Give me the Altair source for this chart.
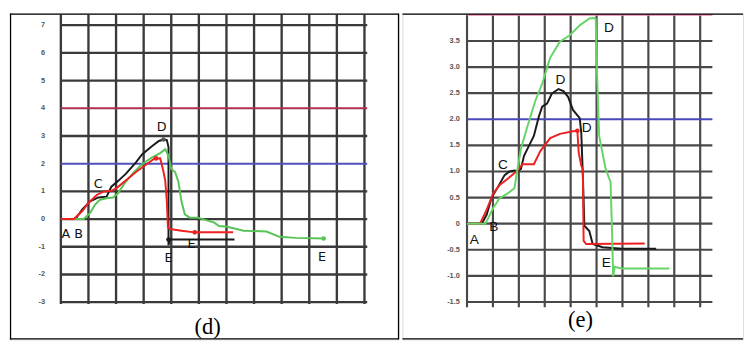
import altair as alt
import pandas as pd

# ---------------- Panel (d) ----------------
d_tick_values = [7, 6, 5, 4, 3, 2, 1, 0, -1, -2, -3]
d_tick_labels = ["7", "6", "5", "4", "3", "2", "1", "0", "-1", "-2", "-3"]
d_vgrid = list(range(0, 12))
d_special = [4, 2, 2.27]
d_special_colors = ["#b03050", "#5050c0", "#f3f0b8"]

d_black_x = [0, 0.53, 0.77, 1.06, 1.36, 1.66, 1.83, 2.07, 2.36, 2.72, 2.95, 3.31, 3.55, 3.72, 3.84, 3.9, 3.9, 3.95, 6.29]
d_black_y = [0, 0, 0.34, 0.64, 0.78, 0.81, 1.17, 1.37, 1.64, 2.05, 2.34, 2.64, 2.82, 2.87, 2.85, 2.6, -0.95, -0.74, -0.74]
d_red_x = [0, 0.47, 0.77, 1.0, 1.3, 1.54, 1.83, 2.01, 2.36, 2.72, 3.07, 3.37, 3.6, 3.72, 3.78, 3.84, 3.88, 3.96, 4.37, 4.85, 6.24]
d_red_y = [0, 0, 0.28, 0.58, 0.87, 0.99, 1.02, 1.11, 1.4, 1.7, 1.95, 2.17, 2.19, 1.7, 1.4, 0.64, -0.31, -0.36, -0.42, -0.48, -0.48]
d_green_x = [0, 0.83, 1.06, 1.24, 1.42, 1.66, 1.89, 2.07, 2.3, 2.6, 2.95, 3.31, 3.6, 3.78, 3.9, 4.0, 4.14, 4.26, 4.37, 4.49, 4.67, 4.96, 5.56, 5.73, 6.03, 6.62, 7.45, 7.92, 8.51, 9.52]
d_green_y = [0, 0, 0.22, 0.52, 0.7, 0.75, 0.78, 0.93, 1.28, 1.64, 1.99, 2.23, 2.38, 2.52, 2.29, 1.81, 1.7, 1.34, 0.64, 0.17, 0.05, 0.05, -0.13, -0.25, -0.28, -0.42, -0.45, -0.64, -0.68, -0.7]

d_dot_x = [3.72, 3.45, 4.85, 9.52, 3.9]
d_dot_y = [2.87, 2.19, -0.48, -0.7, -0.74]
d_dot_c = ["#555555", "#ee2020", "#ee2020", "#55c455", "#1a1a1a"]

d_lab_text = ["A", "B", "C", "D", "E", "E", "E"]
d_lab_x = [0.18, 0.64, 1.35, 3.65, 3.9, 4.73, 9.46]
d_lab_y = [-0.53, -0.53, 1.27, 3.32, -1.42, -0.9, -1.37]

# ---------------- Panel (e) ----------------
e_tick_values = [3.5, 3.0, 2.5, 2.0, 1.5, 1.0, 0.5, 0, -0.5, -1.0, -1.5]
e_tick_labels = ["3.5", "3.0", "2.5", "2.0", "1.5", "1.0", "0.5", "0", "-0.5", "-1.0", "-1.5"]
e_vgrid = list(range(0, 10))
e_special = [4.0, 2.0]
e_special_colors = ["#ec80b0", "#4848b8"]

e_black_x = [0, 0.57, 0.76, 0.94, 1.2, 1.45, 1.64, 1.83, 1.95, 2.08, 2.2, 2.39, 2.58, 2.77, 2.9, 3.09, 3.27, 3.53, 3.72, 3.9, 4.09, 4.35, 4.41, 4.47, 4.53, 4.72, 4.85, 5.23, 5.98, 7.3]
e_black_y = [0, 0, 0.175, 0.49, 0.71, 0.93, 1.0, 1.02, 1.0, 1.05, 1.3, 1.49, 1.68, 2.05, 2.24, 2.3, 2.49, 2.58, 2.54, 2.43, 2.18, 2.02, 1.74, 0.93, -0.04, -0.14, -0.39, -0.45, -0.48, -0.48]
e_red_x = [0, 0.5, 0.76, 1.01, 1.26, 1.57, 1.95, 2.14, 2.58, 2.83, 3.21, 3.59, 4.09, 4.26, 4.31, 4.41, 4.47, 4.5, 4.6, 6.86]
e_red_y = [0, 0, 0.27, 0.58, 0.74, 0.86, 1.02, 1.14, 1.14, 1.39, 1.64, 1.72, 1.77, 1.78, 1.36, 1.11, 1.05, -0.33, -0.39, -0.38]
e_green_x = [0, 0.7, 0.76, 1.01, 1.26, 1.57, 1.83, 1.93, 2.08, 2.33, 2.64, 2.9, 3.21, 3.59, 3.97, 4.35, 4.72, 4.91, 4.97, 5.0, 5.1, 5.35, 5.54, 5.6, 5.64, 5.7, 5.98, 7.81]
e_green_y = [0, 0, 0.05, 0.3, 0.49, 0.58, 0.68, 0.99, 1.43, 1.86, 2.36, 2.68, 3.18, 3.49, 3.61, 3.8, 3.93, 3.94, 3.92, 3.18, 1.68, 1.05, 0.8, -0.2, -1.01, -0.83, -0.86, -0.86]

e_dot_x = [4.26]
e_dot_y = [1.78]
e_dot_c = ["#ee2020"]

e_lab_text = ["A", "B", "C", "D", "D", "D", "E"]
e_lab_x = [0.28, 1.03, 1.39, 5.48, 3.61, 4.62, 5.38]
e_lab_y = [-0.31, -0.06, 1.13, 3.75, 2.75, 1.84, -0.76]


def lines_df(series):
    rows = []
    for color, xs, ys in series:
        for i, (a, b) in enumerate(zip(xs, ys)):
            rows.append({"c": color, "o": i, "x": a, "y": b})
    return pd.DataFrame(rows)


def panel(cfg):
    W, H = cfg["W"], cfg["H"]
    xs = alt.Scale(domain=cfg["xdom"], nice=False, zero=False)
    ys = alt.Scale(domain=cfg["ydom"], nice=False, zero=False)
    X = lambda f: alt.X(f, type="quantitative", scale=xs, axis=None)
    Y = lambda f: alt.Y(f, type="quantitative", scale=ys, axis=None)
    gcol = cfg["gcol"]
    gw = cfg["gw"]

    vg = pd.DataFrame({"x": cfg["vgrid"], "y": cfg["vy"][0], "y2": cfg["vy"][1]})
    vlayer = alt.Chart(vg).mark_rule(color=gcol, strokeWidth=gw).encode(
        x=X("x"), y=Y("y"), y2="y2")

    hvals = cfg["hgrid"]
    hg = pd.DataFrame({"y": hvals, "x": cfg["hx"][0], "x2": cfg["hx"][1], "c": gcol})
    hlayer = alt.Chart(hg).mark_rule(strokeWidth=gw).encode(
        y=Y("y"), x=X("x"), x2="x2", color=alt.Color("c:N", scale=None))

    sp = pd.DataFrame({"y": cfg["special"], "c": cfg["special_c"], "x": cfg["hx"][0], "x2": cfg["hx"][1]})
    splayer = alt.Chart(sp).mark_rule(strokeWidth=2).encode(
        y=Y("y"), x=X("x"), x2="x2", color=alt.Color("c:N", scale=None))

    tk = pd.DataFrame({"y": cfg["ticks"], "t": cfg["tick_labels"], "x": cfg["tick_x"]})
    tklayer = alt.Chart(tk).mark_text(align="right", baseline="middle", fontSize=7.5,
                                      fontWeight="bold", color="#555555",
                                      font="Liberation Sans").encode(x=X("x"), y=Y("y"), text="t:N")

    ld = lines_df(cfg["series"])
    llayer = alt.Chart(ld).mark_line(strokeWidth=2, interpolate="linear").encode(
        x=X("x"), y=Y("y"), order="o:Q", detail="c:N", color=alt.Color("c:N", scale=None))

    dots = pd.DataFrame({"x": cfg["dot_x"], "y": cfg["dot_y"], "c": cfg["dot_c"]})
    dlayer = alt.Chart(dots).mark_circle(size=22, opacity=1).encode(
        x=X("x"), y=Y("y"), color=alt.Color("c:N", scale=None))

    lab = pd.DataFrame({"x": cfg["lab_x"], "y": cfg["lab_y"], "t": cfg["lab_text"]})
    lablayer = alt.Chart(lab).mark_text(fontSize=cfg["lab_size"], font=cfg["lab_font"],
                                        color="#111111", baseline="middle", align="center").encode(
        x=X("x"), y=Y("y"), text="t:N")

    cap = pd.DataFrame({"x": [cfg["cap_x"]], "y": [cfg["cap_y"]], "t": [cfg["cap"]]})
    caplayer = alt.Chart(cap).mark_text(fontSize=23, font="Liberation Serif", color="#000000",
                                        baseline="middle", align="center").encode(
        x=X("x"), y=Y("y"), text="t:N")

    border_df = pd.DataFrame({"k": [0]})
    top = alt.Chart(border_df).mark_rule(color="#000", strokeWidth=1.3).encode(
        x=alt.value(0), x2=alt.value(W), y=alt.value(0.6))
    bot = alt.Chart(border_df).mark_rule(color="#000", strokeWidth=1.3).encode(
        x=alt.value(0), x2=alt.value(W), y=alt.value(H - 0.6))
    layers = [vlayer, hlayer, splayer, tklayer, llayer, dlayer, lablayer, caplayer, top, bot]
    if cfg.get("left"):
        layers.append(alt.Chart(border_df).mark_rule(color="#000", strokeWidth=1.3).encode(
            x=alt.value(0.6), y=alt.value(0), y2=alt.value(H)))
    if cfg.get("right"):
        layers.append(alt.Chart(border_df).mark_rule(color="#000", strokeWidth=1.3).encode(
            x=alt.value(W), y=alt.value(0), y2=alt.value(H)))
    return alt.layer(*layers).properties(width=W, height=H)


H = 333
d_cfg = dict(
    W=397, H=H, xdom=[-1.844, 12.234], ydom=[-4.347, 7.420],
    vgrid=d_vgrid, vy=(-3.07, 7.38), hgrid=[v for v in d_tick_values if v not in (4, 2)],
    hx=(0, 11.1), special=d_special[:2], special_c=d_special_colors[:2],
    ticks=d_tick_values, tick_labels=d_tick_labels, tick_x=-0.57,
    gcol="#3a3a3a", gw=2.4,
    series=[("#1a1a1a", d_black_x, d_black_y), ("#55c455", d_green_x, d_green_y),
            ("#ee2020", d_red_x, d_red_y)],
    dot_x=d_dot_x, dot_y=d_dot_y, dot_c=d_dot_c,
    lab_text=d_lab_text, lab_x=d_lab_x, lab_y=d_lab_y, lab_size=13, lab_font="DejaVu Sans",
    cap="(d)", cap_x=5.32, cap_y=-3.9, left=True, right=True,
)
e_cfg = dict(
    W=348, H=H, xdom=[-2.493, 10.654], ydom=[-2.218, 4.026],
    vgrid=e_vgrid, vy=(-1.6, 4.0), hgrid=[v for v in e_tick_values if v != 2.0],
    hx=(0, 9.47), special=e_special, special_c=e_special_colors,
    ticks=e_tick_values, tick_labels=e_tick_labels, tick_x=-0.28,
    gcol="#484848", gw=2.2,
    series=[("#1a1a1a", e_black_x, e_black_y), ("#ee2020", e_red_x, e_red_y),
            ("#66d466", e_green_x, e_green_y)],
    dot_x=e_dot_x, dot_y=e_dot_y, dot_c=e_dot_c,
    lab_text=e_lab_text, lab_x=e_lab_x, lab_y=e_lab_y, lab_size=14, lab_font="Liberation Sans",
    cap="(e)", cap_x=4.38, cap_y=-1.85,
)

chart = alt.hconcat(panel(d_cfg), panel(e_cfg), spacing=0).properties(
    padding=0
).configure_view(stroke=None).configure(background="white")

chart.save("out.html", embed_options={"renderer": "svg", "actions": False})
